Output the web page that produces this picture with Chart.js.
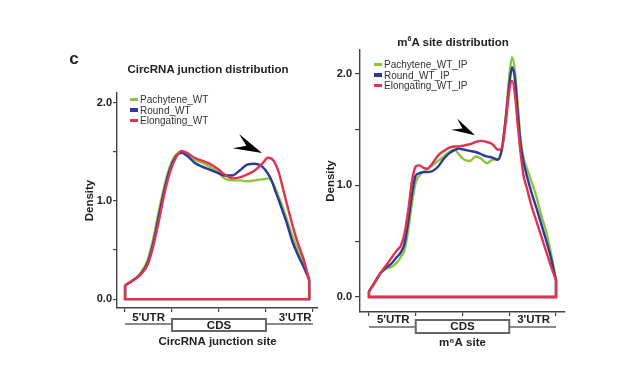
<!DOCTYPE html>
<html lang="en">
<head>
<meta charset="UTF-8">
<title>CircRNA junction / m6A site distribution</title>
<script src="https://cdn.jsdelivr.net/npm/chart.js"></script>
<style>
  html, body { margin: 0; padding: 0; background: #fff; }
  body { width: 641px; height: 366px; position: relative; overflow: hidden;
         font-family: "Liberation Sans", Arial, Helvetica, sans-serif; color: #222; }
  canvas { position: absolute; left: 0; top: 0; }
  .t { position: absolute; line-height: 1; white-space: nowrap; transform: translate(-50%, -50%); font-weight: bold; }
  .leg { position: absolute; line-height: 1; white-space: nowrap; transform: translateY(-50%); font-size: 10px; color: #333; }
  .sw { display: inline-block; width: 8px; height: 3.5px; margin-right: 2px; vertical-align: middle; position: relative; top: -1px; }
</style>
</head>
<body>
<canvas id="left" width="641" height="366"></canvas>
<canvas id="right" width="641" height="366"></canvas>

<div class="t" style="left:74px;top:58px;font-size:17px;">c</div>
<div class="t" style="left:208px;top:70px;font-size:11.5px;">CircRNA junction distribution</div>
<div class="t" style="left:453px;top:42px;font-size:11.5px;">m<sup style="font-size:7px;">6</sup>A site distribution</div>

<div id="legLeft"></div>
<div id="legRight"></div>

<script>
// ---- data (position along transcript in %, density) ----
const regionBounds = [0, 25, 75, 100];      // 5'UTR | CDS | 3'UTR
const regionNames = ["5'UTR", "CDS", "3'UTR"];
const yTickValues = [0, 0.5, 1, 1.5, 2];
const xTickValues = [0, 25, 50, 75, 100];

// left panel: circRNA junction sites
const circPos = [0, 4, 8, 12, 15, 18, 21, 24, 27, 30, 33, 37, 41, 45, 49, 53, 57, 61, 65, 69, 73, 76, 78, 80, 82, 84, 86, 89, 92, 95, 98];
const circPachytene = [0.14, 0.19, 0.26, 0.40, 0.62, 0.90, 1.16, 1.36, 1.47, 1.50, 1.48, 1.42, 1.39, 1.35, 1.30, 1.23, 1.21, 1.21, 1.20, 1.21, 1.22, 1.23, 1.20, 1.13, 1.03, 0.93, 0.82, 0.65, 0.50, 0.36, 0.21];
const circRound     = [0.14, 0.19, 0.25, 0.37, 0.57, 0.85, 1.12, 1.33, 1.45, 1.49, 1.46, 1.39, 1.35, 1.32, 1.29, 1.26, 1.26, 1.31, 1.37, 1.38, 1.35, 1.28, 1.21, 1.10, 1.00, 0.89, 0.78, 0.59, 0.45, 0.33, 0.20];
const circElong     = [0.14, 0.19, 0.245, 0.35, 0.54, 0.80, 1.08, 1.30, 1.44, 1.51, 1.49, 1.44, 1.41, 1.38, 1.33, 1.27, 1.23, 1.24, 1.27, 1.31, 1.38, 1.44, 1.43, 1.38, 1.28, 1.13, 0.98, 0.76, 0.57, 0.41, 0.19];
const circLabels = ['Pachytene_WT', 'Round_WT', 'Elongating_WT'];

// right panel: m6A sites
const m6aPos = [0, 3, 6, 9, 12, 15, 17, 19, 21, 23, 25, 27, 29, 31, 34, 37, 40, 43, 46, 48, 51, 54, 57, 60, 63, 66, 69, 71, 73, 75, 76.5, 78, 79.5, 81, 82.5, 84.5, 87, 89.5, 92, 94.5, 97, 100];
const m6aPachytene = [0.05, 0.12, 0.21, 0.25, 0.27, 0.31, 0.36, 0.42, 0.60, 0.84, 1.03, 1.09, 1.12, 1.14, 1.18, 1.22, 1.26, 1.30, 1.32, 1.28, 1.23, 1.22, 1.26, 1.24, 1.20, 1.23, 1.24, 1.33, 1.60, 1.98, 2.15, 2.03, 1.74, 1.42, 1.26, 1.15, 1.03, 0.90, 0.74, 0.60, 0.42, 0.15];
const m6aRound     = [0.05, 0.13, 0.21, 0.26, 0.30, 0.36, 0.40, 0.48, 0.68, 0.92, 1.09, 1.11, 1.12, 1.12, 1.13, 1.17, 1.24, 1.29, 1.32, 1.33, 1.32, 1.31, 1.30, 1.28, 1.26, 1.25, 1.23, 1.32, 1.58, 1.90, 2.06, 1.96, 1.66, 1.38, 1.22, 1.08, 0.93, 0.80, 0.66, 0.52, 0.37, 0.15];
const m6aElong     = [0.05, 0.13, 0.21, 0.28, 0.35, 0.42, 0.46, 0.57, 0.78, 1.04, 1.17, 1.18, 1.16, 1.15, 1.20, 1.27, 1.31, 1.34, 1.35, 1.35, 1.36, 1.37, 1.39, 1.40, 1.39, 1.37, 1.32, 1.33, 1.55, 1.85, 1.94, 1.82, 1.55, 1.30, 1.10, 0.97, 0.81, 0.68, 0.55, 0.42, 0.29, 0.15];
const m6aLabels = ['Pachytene_WT_IP', 'Round_WT_IP', 'Elongating_WT_IP'];

const colors = ['#8cc63f', '#2b3a97', '#e2324f'];
const FONT = '"Liberation Sans", Arial, Helvetica, sans-serif';

// builds the datasets: smooth density curve + closed baseline frame for each group
function buildDatasets(pos, seriesList) {
  const sets = [];
  seriesList.forEach((vals, i) => {
    const order = seriesList.length - 1 - i;   // last group drawn on top
    const last = pos.length - 1;
    sets.push({
      data: pos.map((p, k) => ({ x: p, y: vals[k] })),
      borderColor: colors[i], borderWidth: 2.4, pointRadius: 0,
      cubicInterpolationMode: 'monotone', order
    });
    sets.push({
      data: [{ x: pos[0], y: vals[0] }, { x: pos[0], y: 0 }, { x: pos[last], y: 0 }, { x: pos[last], y: vals[last] }],
      borderColor: colors[i], borderWidth: 2.4, pointRadius: 0, tension: 0, order
    });
  });
  return sets;
}

// gene structure track under the x axis plus the black arrow
const geneTrack = {
  id: 'geneTrack',
  afterDraw(chart, args, o) {
    const ctx = chart.ctx, xs = chart.scales.x, ys = chart.scales.y;
    const base = chart.chartArea.bottom;
    const px = v => xs.getPixelForValue(v);
    ctx.save();
    ctx.strokeStyle = '#666';
    ctx.lineWidth = 1.5;
    const ly = base + o.lineOff;
    ctx.beginPath();
    ctx.moveTo(px(regionBounds[0]), ly); ctx.lineTo(px(regionBounds[1]), ly);
    ctx.moveTo(px(regionBounds[2]), ly); ctx.lineTo(px(regionBounds[3]), ly);
    ctx.stroke();
    ctx.lineWidth = 2;
    ctx.fillStyle = '#fff';
    const bx = px(regionBounds[1]), bw = px(regionBounds[2]) - bx;
    ctx.fillRect(bx, base + o.boxTop, bw, o.boxH);
    ctx.strokeRect(bx, base + o.boxTop, bw, o.boxH);

    ctx.fillStyle = '#222';
    ctx.font = 'bold 11.5px ' + FONT;
    ctx.textAlign = 'center';
    ctx.textBaseline = 'middle';
    ctx.fillText(regionNames[0], px(o.labelPos[0]), base + o.utrOff);
    ctx.fillText(regionNames[1], px(o.labelPos[1]), base + o.boxTop + o.boxH / 2 + 0.5);
    ctx.fillText(regionNames[2], px(o.labelPos[2]), base + o.utrOff);

    // arrow pointing at the highlighted peak
    const x0 = px(o.arrow[0]), y0 = ys.getPixelForValue(o.arrow[1]);
    const x1 = px(o.arrow[2]), y1 = ys.getPixelForValue(o.arrow[3]);
    const L = Math.hypot(x1 - x0, y1 - y0), ux = (x1 - x0) / L, uy = (y1 - y0) / L;
    const nx = -uy, ny = ux, W = L * 0.27;
    ctx.fillStyle = '#000';
    ctx.beginPath();
    ctx.moveTo(x1, y1);
    ctx.lineTo(x0 + nx * W, y0 + ny * W);
    ctx.lineTo(x0 + ux * L * 0.4, y0 + uy * L * 0.4);
    ctx.lineTo(x0 - nx * W, y0 - ny * W);
    ctx.closePath();
    ctx.fill();
    ctx.restore();
  }
};

function makePanel(id, pos, series, p) {
  return new Chart(document.getElementById(id), {
    type: 'line',
    data: { datasets: buildDatasets(pos, series) },
    plugins: [geneTrack],
    options: {
      responsive: false,
      animation: false,
      layout: { padding: p.padding },
      plugins: { legend: { display: false }, tooltip: { enabled: false }, geneTrack: p.track },
      scales: {
        x: {
          type: 'linear', min: p.xMin, max: p.xMax,
          afterBuildTicks: s => { s.ticks = xTickValues.map(v => ({ value: v })); },
          afterFit: s => { s.height = p.xHeight; },
          ticks: { callback: () => '' },
          grid: { drawOnChartArea: false, tickLength: 4, color: '#444', lineWidth: 1.2 },
          border: { display: true, color: '#444', width: 1.4 },
          title: { display: true, text: p.xTitle, color: '#222', padding: { top: 0, bottom: 4 },
                   font: { family: FONT, size: 11.5, weight: 'bold' } }
        },
        y: {
          type: 'linear', min: p.yMin, max: p.yMax,
          afterBuildTicks: s => { s.ticks = yTickValues.map(v => ({ value: v })); },
          afterFit: s => { s.width = p.yWidth; },
          ticks: { callback: v => Number.isInteger(v) ? v.toFixed(1) : '', padding: p.tickPad,
                   color: '#222', font: { family: FONT, size: 11, weight: 'bold' } },
          grid: { drawOnChartArea: false, tickLength: p.tickLen, color: '#444', lineWidth: 1.2 },
          border: { display: true, color: '#444', width: 1.4 },
          title: { display: true, text: 'Density', color: '#222', padding: { top: 5.5, bottom: 0 },
                   font: { family: FONT, size: 11.5, weight: 'bold' } }
        }
      }
    }
  });
}

makePanel('left', circPos, [circPachytene, circRound, circElong], {
  padding: { left: 77, right: 323, top: 93, bottom: 13.4 },
  xMin: -4.3, xMax: 102.7, yMin: -0.09, yMax: 2.1,
  xHeight: 44.6, yWidth: 40, tickPad: 1, tickLen: 4,
  xTitle: 'CircRNA junction site',
  track: { lineOff: 16, boxTop: 11, boxH: 12, utrOff: 10, labelPos: [12.5, 50, 90.5], arrow: [59, 1.61, 72.9, 1.49] }
});

makePanel('right', m6aPos, [m6aPachytene, m6aRound, m6aElong], {
  padding: { left: 318, right: 76, top: 50, bottom: 12.7 },
  xMin: -4.8, xMax: 104.8, yMin: -0.135, yMax: 2.215,
  xHeight: 41.3, yWidth: 42, tickPad: 3, tickLen: 5,
  xTitle: 'm\u2076A site',
  track: { lineOff: 15, boxTop: 8, boxH: 13, utrOff: 8, labelPos: [13, 50, 88], arrow: [45.5, 1.55, 56.7, 1.45] }
});

// legends (HTML, top-left inside each panel)
function legend(el, labels, left, top) {
  labels.forEach((name, i) => {
    const d = document.createElement('div');
    d.className = 'leg';
    d.style.left = left + 'px';
    d.style.top = (top + i * 10.5) + 'px';
    d.innerHTML = '<span class="sw" style="background:' + colors[i] + '"></span>' + name;
    el.appendChild(d);
  });
}
legend(document.getElementById('legLeft'), circLabels, 130, 100);
legend(document.getElementById('legRight'), m6aLabels, 374, 65);
</script>
</body>
</html>
